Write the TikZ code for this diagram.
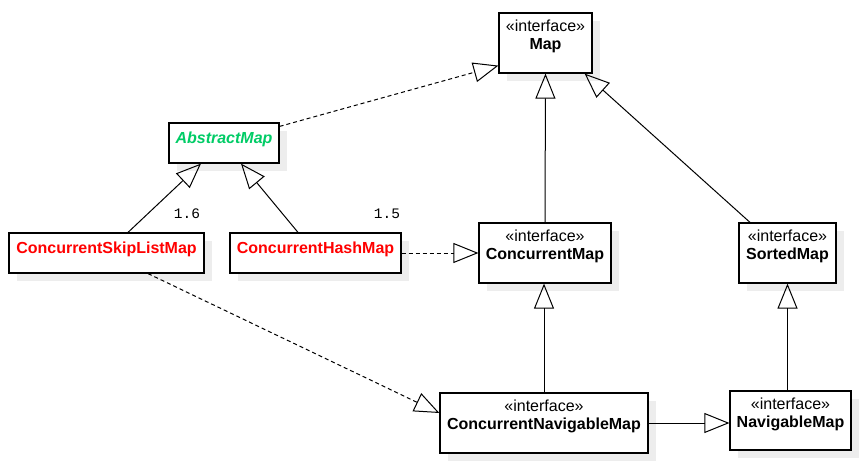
\documentclass[tikz,border=0pt]{standalone}
\usepackage{fontspec}
\setmainfont{Liberation Sans}
\newfontfamily\verfont{Liberation Mono}
\usetikzlibrary{arrows.meta,shadows}
\definecolor{absgreen}{RGB}{0,204,102}
\tikzset{
  umlbox/.style={draw,line width=1.2pt,fill=white,inner sep=0pt,
    font=\fontsize{16}{18}\selectfont,
    drop shadow={shadow xshift=8pt,shadow yshift=-8pt,fill=black!7,opacity=1}},
  iface/.style={umlbox,align=center,minimum height=60pt},
  klass/.style={umlbox,minimum height=40pt,text height=12pt,text depth=10pt},
  extends/.style={line width=1pt,-{Triangle[open,length=25pt,width=20pt,line width=1pt]}},
  implements/.style={extends,dash pattern=on 4pt off 3pt},
  ver/.style={font=\verfont\fontsize{14.5}{16}\selectfont}
}
\begin{document}
\begin{tikzpicture}[x=1pt,y=-1pt]
   \useasboundingbox (0,0) rectangle (861,470);
   % interfaces
   \node[iface,minimum width=93pt] (map) at (545.5,43)
      {«interface»\\\textbf{Map}\\[-2pt]\mbox{}};
   \node[iface,minimum width=132pt] (cmap) at (545,253)
      {«interface»\\\textbf{ConcurrentMap}\\[-2pt]\mbox{}};
   \node[iface,minimum width=97pt] (sorted) at (787.5,253)
      {«interface»\\\textbf{SortedMap}\\[-2pt]\mbox{}};
   \node[iface,minimum width=208pt] (cnm) at (544,423)
      {«interface»\\\textbf{ConcurrentNavigableMap}\\[-2pt]\mbox{}};
   \node[iface,minimum width=121pt,minimum height=59pt] (nav) at (790.5,420.5)
      {«interface»\\\textbf{NavigableMap}\\[-2pt]\mbox{}};
   % classes
   \node[klass,minimum width=110pt,text=absgreen] (abs) at (224,143)
      {\textbf{\textit{AbstractMap}}};
   \node[klass,minimum width=195pt,text=red] (skip) at (106.5,253)
      {\textbf{ConcurrentSkipListMap}};
   \node[klass,minimum width=171pt,text=red] (hash) at (315.5,253)
      {\textbf{ConcurrentHashMap}};
   % versions
   \node[ver] (v16) at (187,214) {1.6};
   \node[ver] (v15) at (387,214) {1.5};
   % relations
   \draw[implements] ([yshift=-4pt]abs.north east) -- ([yshift=8pt]map.south west);
   \draw[extends] ([xshift=21.5pt]skip.north) -- ([xshift=-23pt]abs.south);
   \draw[extends] ([xshift=-17.5pt]hash.north) -- ([xshift=17pt]abs.south);
   \draw[implements] (hash.east) -- (cmap.west);
   \draw[extends] (cmap.north) -- (map.south);
   \draw[extends] ([xshift=-37.5pt]sorted.north) -- ([xshift=-8pt]map.south east);
   \draw[extends] (cnm.north) -- (cnm.north |- cmap.south);
   \draw[extends] (sorted.south |- nav.north) -- (sorted.south);
   \draw[extends] (cnm.east) -- (cnm.east -| nav.west);
   \draw[implements] ([xshift=41.5pt]skip.south) -- ([yshift=10pt]cnm.west);
\end{tikzpicture}
\end{document}
